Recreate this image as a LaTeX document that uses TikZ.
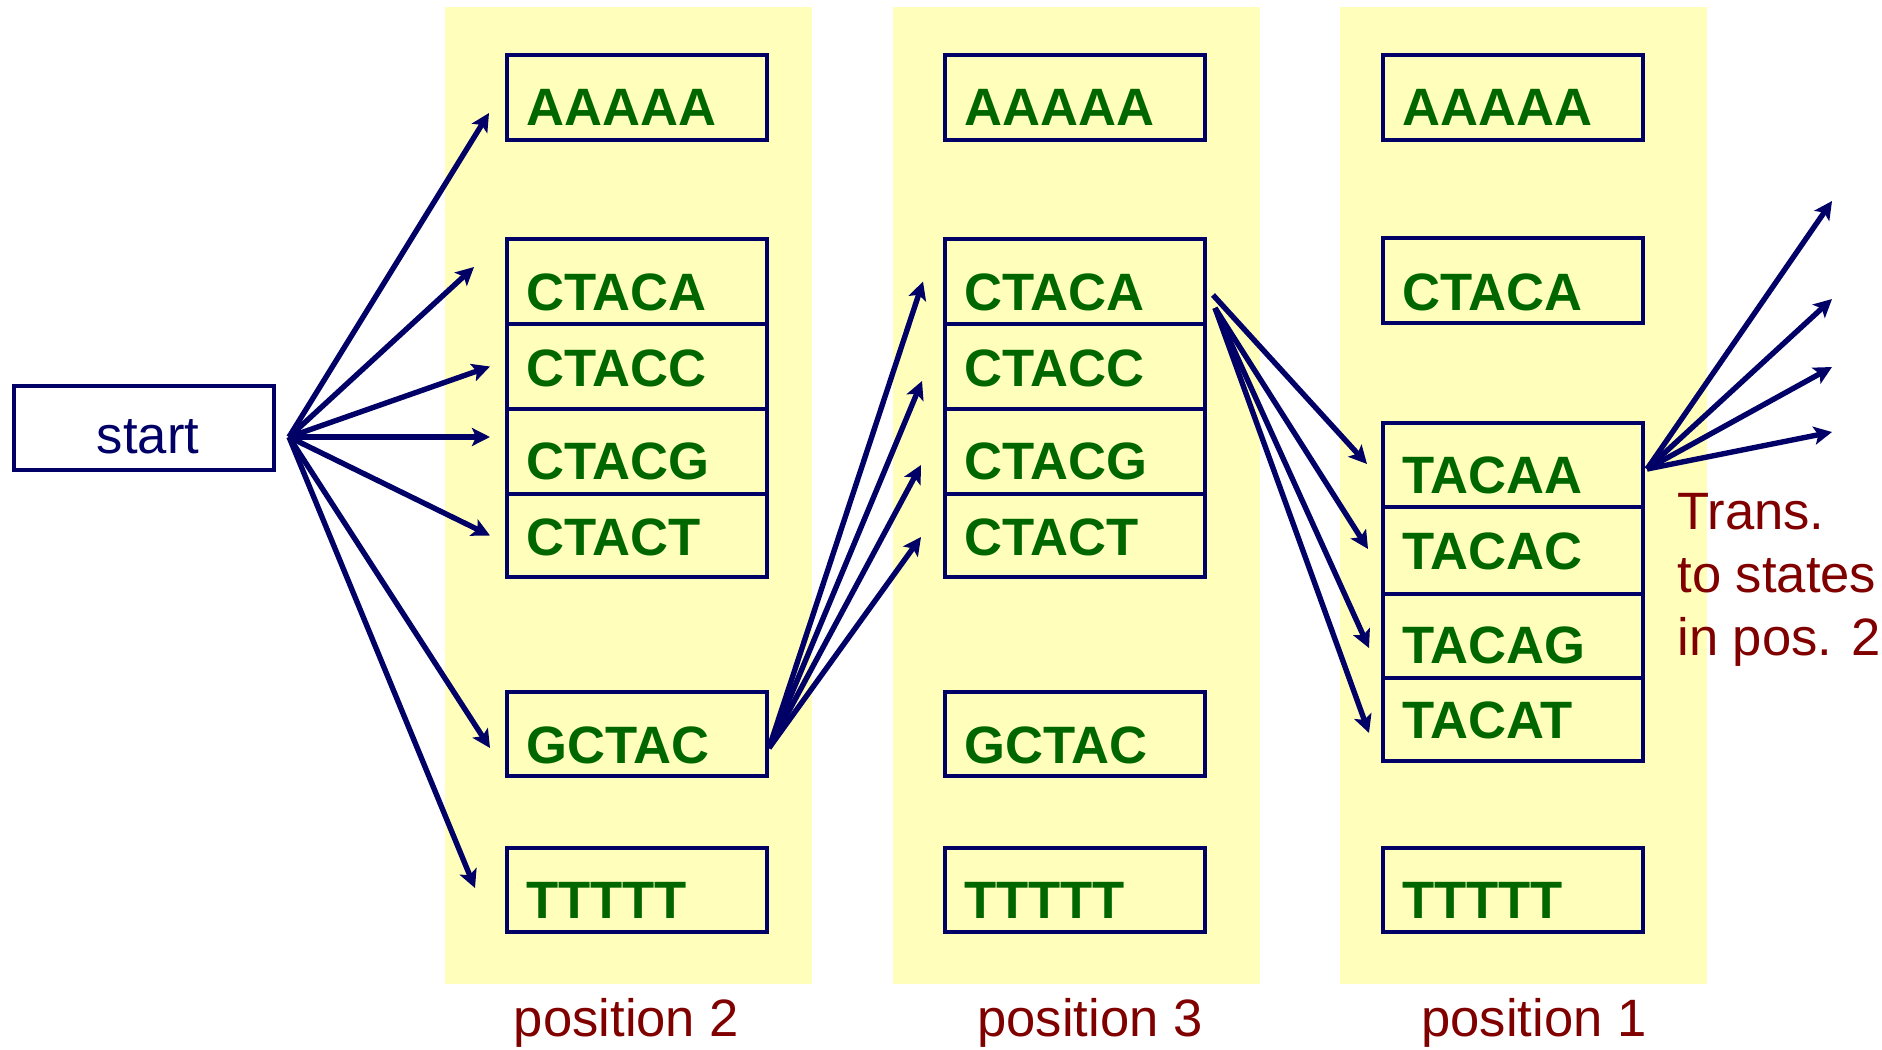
\documentclass[tikz,border=0pt]{standalone}
\usepackage{fontspec}
\setmainfont{Liberation Sans}
\usetikzlibrary{arrows.meta}
\definecolor{panelyellow}{RGB}{255,255,187}
\definecolor{navy}{RGB}{0,0,102}
\definecolor{seqgreen}{RGB}{0,102,0}
\definecolor{darkred}{RGB}{128,0,0}
\newcommand{\bigtxt}{\fontsize{26.3}{31}\selectfont}
\tikzset{
  panel/.style={fill=panelyellow, draw=none, inner sep=0pt, outer sep=0pt, anchor=north west,
    minimum width=183.5pt, minimum height=488.5pt},
  state/.style={draw=navy, line width=2.4pt, fill=panelyellow, inner sep=0pt, outer sep=0pt,
    anchor=north west, minimum width=130pt},
  seq/.style={font=\bfseries\bigtxt, text=seqgreen, anchor=base west, inner sep=0pt},
  lbl/.style={font=\bigtxt, text=darkred, inner sep=0pt},
  arr/.style={draw=navy, line width=2.7pt, -{Stealth[length=9pt,width=9pt,inset=2pt]}},
}
\begin{document}
\begin{tikzpicture}[x=0.5pt,y=-0.5pt]
\useasboundingbox (0,0) rectangle (1882,1049);
% panels
\node[panel] (pan1) at (445,7) {};
\node[panel] (pan2) at (893,7) {};
\node[panel] (pan3) at (1340,7) {};
% start
\node[state, fill=white, minimum height=42pt] (start) at (14,386) {};
\node[font=\bigtxt, text=navy, anchor=base, inner sep=0pt] (starttxt) at (148,453) {start};
% panel 1
\node[state, minimum height=42.5pt] (a1) at (507,55) {};
\node[state, minimum height=42.5pt] (c1a) at (507,239) {};
\node[state, minimum height=42.5pt] (c1c) at (507,324) {};
\node[state, minimum height=42.5pt] (c1g) at (507,409) {};
\node[state, minimum height=41.5pt] (c1t) at (507,494) {};
\node[state, minimum height=42pt] (g1) at (507,692) {};
\node[state, minimum height=42pt] (t1) at (507,848) {};
\node[seq] (a1txt) at (526,125.5) {AAAAA};
\node[seq] (c1atxt) at (526,310) {CTACA};
\node[seq] (c1ctxt) at (526,386) {CTACC};
\node[seq] (c1gtxt) at (526,479) {CTACG};
\node[seq] (c1ttxt) at (526,555) {CTACT};
\node[seq] (g1txt) at (526,763) {GCTAC};
\node[seq] (t1txt) at (526,918) {TTTTT};
% panel 2
\node[state, minimum height=42.5pt] (a2) at (945,55) {};
\node[state, minimum height=42.5pt] (c2a) at (945,239) {};
\node[state, minimum height=42.5pt] (c2c) at (945,324) {};
\node[state, minimum height=42.5pt] (c2g) at (945,409) {};
\node[state, minimum height=41.5pt] (c2t) at (945,494) {};
\node[state, minimum height=42pt] (g2) at (945,692) {};
\node[state, minimum height=42pt] (t2) at (945,848) {};
\node[seq] (a2txt) at (964,125.5) {AAAAA};
\node[seq] (c2atxt) at (964,310) {CTACA};
\node[seq] (c2ctxt) at (964,386) {CTACC};
\node[seq] (c2gtxt) at (964,479) {CTACG};
\node[seq] (c2ttxt) at (964,555) {CTACT};
\node[seq] (g2txt) at (964,763) {GCTAC};
\node[seq] (t2txt) at (964,918) {TTTTT};
% panel 3
\node[state, minimum height=42.5pt] (a3) at (1383,55) {};
\node[state, minimum height=42.5pt] (c3a) at (1383,238) {};
\node[state, minimum height=42pt] (ta) at (1383,423) {};
\node[state, minimum height=43.5pt] (tc) at (1383,507) {};
\node[state, minimum height=42pt] (tg) at (1383,594) {};
\node[state, minimum height=41.5pt] (tt) at (1383,678) {};
\node[state, minimum height=42pt] (t3) at (1383,848) {};
\node[seq] (a3txt) at (1402,125.5) {AAAAA};
\node[seq] (c3atxt) at (1402,310) {CTACA};
\node[seq] (tatxt) at (1402,493) {TACAA};
\node[seq] (tctxt) at (1402,569) {TACAC};
\node[seq] (tgtxt) at (1402,663) {TACAG};
\node[seq] (tttxt) at (1402,738) {TACAT};
\node[seq] (t3txt) at (1402,918) {TTTTT};
% labels
\node[lbl, anchor=base] (pos2) at (626.5,1036) {position 2};
\node[lbl, anchor=base] (pos3) at (1090,1036) {position 3};
\node[lbl, anchor=base] (pos1) at (1534,1036) {position 1};
\node[lbl, anchor=base west] (tr1) at (1677,529) {Trans.};
\node[lbl, anchor=base west] (tr2) at (1677,592) {to states};
\node[lbl, anchor=base west] (tr3) at (1677,655) {in pos. 2};
% arrows from start
\coordinate (s0) at ([shift={(15,9)}]start.east);
\draw[arr] (s0) -- ([shift={(-18,15.5)}]a1.west);
\draw[arr] (s0) -- ([shift={(-33,-14.5)}]c1a.west);
\draw[arr] (s0) -- ([shift={(-17,0)}]c1c.west);
\draw[arr] (s0) -- ([shift={(-17,-14.5)}]c1g.west);
\draw[arr] (s0) -- ([shift={(-17,0)}]c1t.west);
\draw[arr] (s0) -- ([shift={(-17,14)}]g1.west);
\draw[arr] (s0) -- ([shift={(-32,-2)}]t1.west);
% arrows from GCTAC
\coordinate (g0) at ([shift={(2,14)}]g1.east);
\draw[arr] (g0) -- ([shift={(-22,0)}]c2a.west);
\draw[arr] (g0) -- ([shift={(-23,14.5)}]c2c.west);
\draw[arr] (g0) -- ([shift={(-24,13.5)}]c2g.west);
\draw[arr] (g0) -- ([shift={(-24,1.5)}]c2t.west);
% arrows from CTACA (pos 3)
\coordinate (ca0) at ([shift={(8,13.5)}]c2a.east);
\coordinate (ca1) at ([shift={(10,26.5)}]c2a.east);
\draw[arr] (ca0) -- ([shift={(-16,-1)}]ta.west);
\draw[arr] (ca1) -- ([shift={(-15,-1.5)}]tc.west);
\draw[arr] (ca1) -- ([shift={(-14,12)}]tg.west);
\draw[arr] (ca1) -- ([shift={(-14,13.5)}]tt.west);
% arrows from TACAA
\coordinate (ta0) at ([shift={(4,4)}]ta.east);
\coordinate (o1) at (1832,201);
\coordinate (o2) at (1832,299);
\coordinate (o3) at (1832,367);
\coordinate (o4) at (1832,432);
\draw[arr] (ta0) -- (o1);
\draw[arr] (ta0) -- (o2);
\draw[arr] (ta0) -- (o3);
\draw[arr] (ta0) -- (o4);
\end{tikzpicture}
\end{document}
